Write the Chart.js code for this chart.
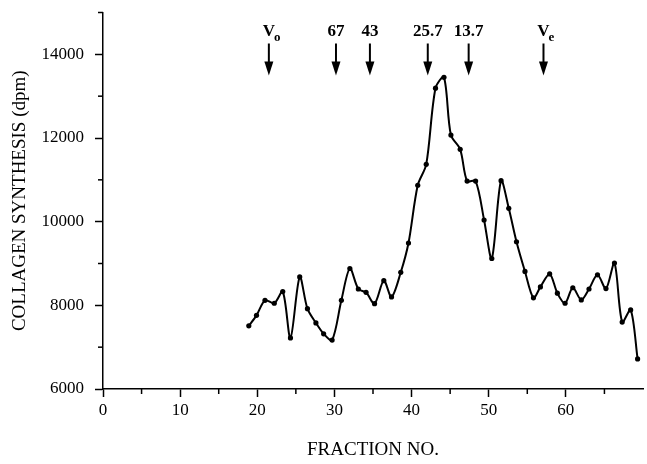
<!DOCTYPE html>
<html>
<head>
<meta charset="utf-8">
<script src="https://cdn.jsdelivr.net/npm/chart.js@4.4.0/dist/chart.umd.min.js"></script>
<style>
  html, body { margin: 0; padding: 0; background: #fff; }
  #wrap { width: 647px; height: 464px; }
</style>
</head>
<body>
<div id="wrap"><canvas id="chart" width="647" height="464"></canvas></div>
<script>
// values
const fractions = [18.9, 19.9, 21.0, 22.2, 23.3, 24.3, 25.5, 26.5, 27.6, 28.6, 29.7, 30.9,
  32.0, 33.1, 34.1, 35.2, 36.4, 37.4, 38.6, 39.6, 40.8, 41.9, 43.1, 44.2,
  45.1, 46.3, 47.2, 48.3, 49.4, 50.4, 51.6, 52.6, 53.6, 54.7, 55.8, 56.7,
  57.9, 58.9, 59.9, 60.9, 62.0, 63.0, 64.1, 65.2, 66.3, 67.3, 68.4, 69.3];
const synthesis = [7510, 7760, 8120, 8050, 8330, 7220, 8680, 7920, 7580, 7320, 7170, 8120,
  8880, 8390, 8310, 8040, 8590, 8200, 8790, 9490, 10870, 11370, 13190, 13450,
  12070, 11730, 10970, 10970, 10040, 9120, 10980, 10320, 9520, 8810, 8180, 8440,
  8750, 8290, 8050, 8420, 8130, 8390, 8730, 8400, 9010, 7600, 7890, 6720];

const xTicks = [0, 10, 20, 30, 40, 50, 60];
const xMinorTicks = [5, 15, 25, 35, 45, 55, 65];
const yTicks = [6000, 8000, 10000, 12000, 14000];
const yMinorTicks = [7000, 9000, 11000, 13000, 15000];

// marker arrows above the peak (fraction position, label, subscript)
const markerFractions = [21.5, 30.2, 34.6, 42.1, 47.4, 57.1];
const markerLabels = ['V', '67', '43', '25.7', '13.7', 'V'];
const markerSubs = ['o', '', '', '', '', 'e'];

const serif = '"Liberation Serif", "DejaVu Serif", serif';

const decorations = {
  id: 'decorations',
  afterDraw(chart) {
    const { ctx, scales: { x, y } } = chart;
    ctx.save();
    ctx.strokeStyle = '#000';
    ctx.fillStyle = '#000';
    ctx.lineWidth = 1.5;

    // short minor ticks
    xMinorTicks.forEach(v => {
      const px = x.getPixelForValue(v);
      ctx.beginPath();
      ctx.moveTo(px, y.bottom);
      ctx.lineTo(px, y.bottom + 5);
      ctx.stroke();
    });
    yMinorTicks.forEach(v => {
      const py = y.getPixelForValue(v);
      ctx.beginPath();
      ctx.moveTo(x.left, py);
      ctx.lineTo(x.left - 5, py);
      ctx.stroke();
    });

    // arrows
    const top = chart.chartArea.top;
    markerFractions.forEach((f, i) => {
      const px = x.getPixelForValue(f);
      ctx.lineWidth = 2;
      ctx.beginPath();
      ctx.moveTo(px, top + 31);
      ctx.lineTo(px, top + 52);
      ctx.stroke();
      ctx.beginPath();
      ctx.moveTo(px - 4.5, top + 49);
      ctx.lineTo(px + 4.5, top + 49);
      ctx.lineTo(px, top + 63);
      ctx.closePath();
      ctx.fill();

      ctx.font = 'bold 17px ' + serif;
      ctx.textAlign = 'center';
      ctx.textBaseline = 'alphabetic';
      ctx.fillText(markerLabels[i], px, top + 23);
      if (markerSubs[i]) {
        const w = ctx.measureText(markerLabels[i]).width;
        ctx.font = 'bold 13px ' + serif;
        ctx.textAlign = 'left';
        ctx.fillText(markerSubs[i], px + w / 2 - 1, top + 28);
      }
    });
    ctx.restore();
  }
};

new Chart(document.getElementById('chart'), {
  type: 'line',
  data: {
    datasets: [{
      data: fractions.map((f, i) => ({ x: f, y: synthesis[i] })),
      borderColor: '#000',
      borderWidth: 2,
      tension: 0.3,
      pointRadius: 2.6,
      pointBackgroundColor: '#000',
      pointBorderWidth: 0,
      fill: false
    }]
  },
  options: {
    responsive: false,
    animation: false,
    devicePixelRatio: 1,
    layout: { padding: { top: 12.5, right: 0.6, left: 0, bottom: 0 } },
    plugins: { legend: { display: false }, tooltip: { enabled: false } },
    scales: {
      x: {
        type: 'linear',
        min: 0,
        max: 70,
        afterBuildTicks: s => { s.ticks = xTicks.map(v => ({ value: v })); },
        afterFit: s => { s.height = 75; s.paddingLeft = 0; s.paddingRight = 0; },
        grid: { drawOnChartArea: false, tickLength: 8, tickColor: '#000', tickWidth: 1.5 },
        border: { color: '#000', width: 1.5 },
        ticks: { color: '#000', font: { family: serif, size: 17 }, padding: 3, maxRotation: 0, autoSkip: false, callback: v => String(v) },
        title: { display: true, text: 'FRACTION NO.', color: '#000', font: { family: serif, size: 19 }, padding: { top: 0, bottom: 3 } }
      },
      y: {
        min: 6000,
        max: 15000,
        afterBuildTicks: s => { s.ticks = yTicks.map(v => ({ value: v })); },
        afterFit: s => { s.width = 103; s.paddingTop = 0; s.paddingBottom = 0; },
        grid: { drawOnChartArea: false, tickLength: 8, tickColor: '#000', tickWidth: 1.5 },
        border: { color: '#000', width: 1.5 },
        ticks: { color: '#000', font: { family: serif, size: 17 }, padding: 11, callback: v => String(v) },
        title: { display: true, text: 'COLLAGEN SYNTHESIS (dpm)', color: '#000', font: { family: serif, size: 19 }, padding: { top: 9, bottom: 0 } }
      }
    }
  },
  plugins: [decorations]
});
</script>
</body>
</html>
